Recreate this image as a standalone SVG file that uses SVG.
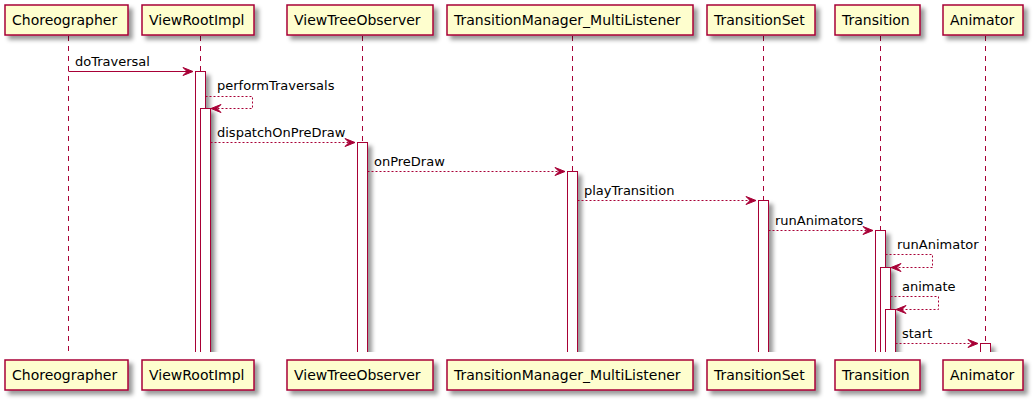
<svg xmlns="http://www.w3.org/2000/svg" width="1036" height="403" viewBox="0 0 1036 403">
<defs>
<filter id="sh" x="-1" y="-1" width="300%" height="300%">
<feGaussianBlur result="b" stdDeviation="2"/>
<feColorMatrix in="b" result="c" type="matrix" values="0 0 0 0 0 0 0 0 0 0 0 0 0 0 0 0 0 0 .4 0"/>
<feOffset in="c" result="o" dx="4" dy="4"/>
<feBlend in="SourceGraphic" in2="o" mode="normal"/>
</filter>
<clipPath id="cl"><rect x="0" y="0" width="1036" height="352"/></clipPath>
</defs>
<style>
.box{fill:#FEFECE;stroke:#A80036;stroke-width:1.5;filter:url(#sh)}
.pt{font-family:"DejaVu Sans",sans-serif;font-size:14px;fill:#000}
.life{stroke:#A80036;stroke-width:1;stroke-dasharray:5,5;fill:none}
.act{fill:#FFFFFF;stroke:#A80036;stroke-width:1;filter:url(#sh)}
.msg{stroke:#A80036;stroke-width:1;fill:none}
.dash{stroke-dasharray:2,2}
.ah{fill:#A80036;stroke:#A80036;stroke-width:1}
.mt{font-family:"DejaVu Sans",sans-serif;font-size:13px;fill:#000}
</style>
<rect width="1036" height="403" fill="#FFFFFF"/>
<g id="lifelines">
<line class="life" x1="68.5" y1="36" x2="68.5" y2="355"/>
<line class="life" x1="200.5" y1="36" x2="200.5" y2="355"/>
<line class="life" x1="362.5" y1="36" x2="362.5" y2="355"/>
<line class="life" x1="572.5" y1="36" x2="572.5" y2="355"/>
<line class="life" x1="763.5" y1="36" x2="763.5" y2="355"/>
<line class="life" x1="880.5" y1="36" x2="880.5" y2="355"/>
<line class="life" x1="985.5" y1="36" x2="985.5" y2="355"/>
</g>
<g id="Choreographer">
<rect class="box" x="5" y="5" width="123" height="30"/>
<text class="pt" x="12" y="25">Choreographer</text>
<rect class="box" x="5" y="360" width="123" height="30"/>
<text class="pt" x="12" y="380">Choreographer</text>
</g>
<g id="ViewRootImpl">
<rect class="box" x="142" y="5" width="112" height="30"/>
<text class="pt" x="149" y="25">ViewRootImpl</text>
<rect class="box" x="142" y="360" width="112" height="30"/>
<text class="pt" x="149" y="380">ViewRootImpl</text>
<g clip-path="url(#cl)">
<rect class="act" x="195.5" y="71.5" width="10" height="300"/>
<rect class="act" x="200.5" y="108.5" width="10" height="300"/>
</g>
</g>
<g id="ViewTreeObserver">
<rect class="box" x="287" y="5" width="146" height="30"/>
<text class="pt" x="294" y="25">ViewTreeObserver</text>
<rect class="box" x="287" y="360" width="146" height="30"/>
<text class="pt" x="294" y="380">ViewTreeObserver</text>
<g clip-path="url(#cl)">
<rect class="act" x="357.5" y="142.5" width="10" height="300"/>
</g>
</g>
<g id="TransitionManager_MultiListener">
<rect class="box" x="447" y="5" width="246" height="30"/>
<text class="pt" x="454" y="25">TransitionManager_MultiListener</text>
<rect class="box" x="447" y="360" width="246" height="30"/>
<text class="pt" x="454" y="380">TransitionManager_MultiListener</text>
<g clip-path="url(#cl)">
<rect class="act" x="567.5" y="171.5" width="10" height="300"/>
</g>
</g>
<g id="TransitionSet">
<rect class="box" x="707" y="5" width="108" height="30"/>
<text class="pt" x="714" y="25">TransitionSet</text>
<rect class="box" x="707" y="360" width="108" height="30"/>
<text class="pt" x="714" y="380">TransitionSet</text>
<g clip-path="url(#cl)">
<rect class="act" x="758.5" y="200.5" width="10" height="300"/>
</g>
</g>
<g id="Transition">
<rect class="box" x="835" y="5" width="85" height="30"/>
<text class="pt" x="842" y="25">Transition</text>
<rect class="box" x="835" y="360" width="85" height="30"/>
<text class="pt" x="842" y="380">Transition</text>
<g clip-path="url(#cl)">
<rect class="act" x="875.5" y="230.5" width="10" height="300"/>
<rect class="act" x="880.5" y="267.5" width="10" height="300"/>
<rect class="act" x="885.5" y="309.5" width="10" height="300"/>
</g>
</g>
<g id="Animator">
<rect class="box" x="943" y="5" width="80" height="30"/>
<text class="pt" x="950" y="25">Animator</text>
<rect class="box" x="943" y="360" width="80" height="30"/>
<text class="pt" x="950" y="380">Animator</text>
<g clip-path="url(#cl)">
<rect class="act" x="980.5" y="343.5" width="10" height="300"/>
</g>
</g>
<g id="connectors">
<line class="msg" x1="68.5" y1="71.5" x2="193" y2="71.5"/>
<polygon class="ah" points="183,67.5 193,71.5 183,75.5 187,71.5"/>
<text class="mt" x="75" y="66">doTraversal</text>

<polyline class="msg dash" points="205.5,96.5 252.5,96.5 252.5,108.5 211,108.5"/>
<polygon class="ah" points="221,104.5 211,108.5 221,112.5 217,108.5"/>
<text class="mt" x="217" y="90">performTraversals</text>

<line class="msg dash" x1="210.5" y1="142.5" x2="355" y2="142.5"/>
<polygon class="ah" points="345,138.5 355,142.5 345,146.5 349,142.5"/>
<text class="mt" x="217" y="137">dispatchOnPreDraw</text>

<line class="msg dash" x1="367.5" y1="171.5" x2="565" y2="171.5"/>
<polygon class="ah" points="555,167.5 565,171.5 555,175.5 559,171.5"/>
<text class="mt" x="374" y="166">onPreDraw</text>

<line class="msg dash" x1="577.5" y1="200.5" x2="756" y2="200.5"/>
<polygon class="ah" points="746,196.5 756,200.5 746,204.5 750,200.5"/>
<text class="mt" x="584" y="195">playTransition</text>

<line class="msg dash" x1="768.5" y1="230.5" x2="873" y2="230.5"/>
<polygon class="ah" points="863,226.5 873,230.5 863,234.5 867,230.5"/>
<text class="mt" x="775" y="225">runAnimators</text>

<polyline class="msg dash" points="885.5,254.5 932.5,254.5 932.5,267.5 891,267.5"/>
<polygon class="ah" points="901,263.5 891,267.5 901,271.5 897,267.5"/>
<text class="mt" x="897" y="249">runAnimator</text>

<polyline class="msg dash" points="890.5,296.5 938.5,296.5 938.5,309.5 896,309.5"/>
<polygon class="ah" points="906,305.5 896,309.5 906,313.5 902,309.5"/>
<text class="mt" x="902" y="291">animate</text>

<line class="msg dash" x1="895.5" y1="343.5" x2="978" y2="343.5"/>
<polygon class="ah" points="968,339.5 978,343.5 968,347.5 972,343.5"/>
<text class="mt" x="902" y="338">start</text>
</g>
</svg>
